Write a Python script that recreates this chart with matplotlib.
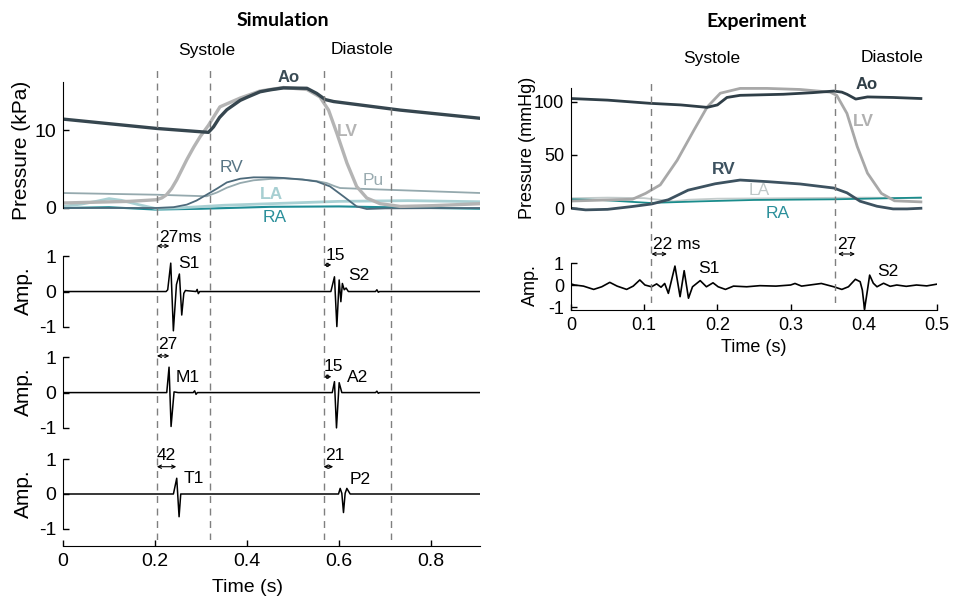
import matplotlib
matplotlib.use("Agg")
import matplotlib.pyplot as plt

plt.rcParams["font.family"] = ["Liberation Sans", "DejaVu Sans"]
plt.rcParams["axes.unicode_minus"] = False

# ---- simulation pressures (kPa) ----
sim_ao_t = [0, 0.2035, 0.316, 0.327, 0.34, 0.356, 0.385, 0.40, 0.428, 0.45, 0.479, 0.53, 0.551, 0.57, 0.588, 0.733, 0.907]
sim_ao_p = [11.4, 10.2, 9.7, 10.4, 11.6, 12.6, 13.8, 14.2, 14.9, 15.15, 15.4, 15.35, 14.7, 13.9, 13.65, 12.55, 11.5]
sim_lv_t = [0, 0.145, 0.2035, 0.215, 0.225, 0.236, 0.247, 0.258, 0.269, 0.284, 0.298, 0.316, 0.341, 0.385, 0.428, 0.479, 0.53, 0.558, 0.577, 0.595, 0.617, 0.638, 0.66, 0.689, 0.733, 0.805, 0.907]
sim_lv_p = [0.64, 0.85, 1.06, 1.3, 1.7, 2.5, 3.6, 4.9, 6.2, 7.8, 9.15, 10.6, 12.97, 14.1, 15.0, 15.45, 15.2, 14.25, 12.55, 9.58, 5.75, 2.76, 1.28, 0.55, 0.2, 0.3, 0.55]
sim_rv_t = [0, 0.2035, 0.24, 0.269, 0.29, 0.312, 0.335, 0.356, 0.385, 0.414, 0.45, 0.479, 0.52, 0.551, 0.58, 0.609, 0.638, 0.66, 0.7, 0.907]
sim_rv_p = [0, 0, 0.1, 0.43, 0.95, 1.7, 2.5, 3.28, 3.75, 3.93, 3.92, 3.85, 3.65, 3.4, 2.77, 1.5, 0.2, -0.13, -0.05, 0]
sim_pu_t = [0, 0.2035, 0.312, 0.335, 0.356, 0.385, 0.414, 0.45, 0.479, 0.52, 0.551, 0.573, 0.59, 0.602, 0.66, 0.805, 0.907]
sim_pu_p = [1.92, 1.7, 1.5, 2.0, 2.6, 3.2, 3.55, 3.72, 3.79, 3.65, 3.45, 3.2, 2.8, 2.56, 2.43, 2.13, 1.92]
sim_la_t = [0, 0.04, 0.072, 0.1, 0.127, 0.164, 0.2, 0.25, 0.35, 0.5, 0.6, 0.75, 0.907]
sim_la_p = [0.2, 0.5, 0.85, 1.2, 0.98, 0.43, -0.05, 0, 0.35, 0.65, 0.85, 0.94, 0.8]
sim_ra_t = [0, 0.1, 0.2, 0.3, 0.45, 0.6, 0.75, 0.907]
sim_ra_p = [0, 0.1, -0.2, -0.1, 0.15, 0.2, 0.05, -0.1]

# ---- simulation heart sounds ----
s_t = [0, 0.224, 0.2275, 0.2341, 0.2398, 0.2465, 0.2529, 0.258, 0.2625, 0.266, 0.272, 0.289, 0.2915, 0.294, 0.297,
       0.582, 0.5898, 0.595, 0.6, 0.6037, 0.607, 0.611, 0.615, 0.62, 0.679, 0.682, 0.685, 0.688, 0.907]
s_a = [0, 0, 0.05, 0.81, -1.12, 0.2, 0.5, -0.67, -0.05, 0.03, 0.02, 0, 0.06, -0.06, 0,
       0, 0.42, -1.0, 0.33, -0.29, 0.23, 0.05, 0.1, 0, 0, 0.05, -0.02, 0, 0]
ma_t = [0, 0.2254, 0.2304, 0.2348, 0.2413, 0.25, 0.283, 0.286, 0.289, 0.292,
        0.585, 0.5898, 0.5942, 0.6, 0.6058, 0.679, 0.682, 0.685, 0.688, 0.907]
ma_a = [0, 0, 0.72, -0.96, 0.02, 0, 0, 0.05, -0.05, 0,
        0, 0.31, -1.0, 0.28, 0, 0, 0.04, -0.02, 0, 0]
tp_t = [0, 0.2399, 0.2471, 0.2522, 0.2558, 0.5986, 0.6022, 0.6058, 0.6094, 0.613, 0.6167, 0.6239, 0.907]
tp_a = [0, 0, 0.45, -0.65, 0, 0, 0.16, 0.02, -0.53, 0.02, 0.16, 0, 0]

# ---- experiment pressures (mmHg) ----
exp_ao_t = [0, 0.05, 0.108, 0.15, 0.186, 0.2, 0.213, 0.231, 0.29, 0.33, 0.359, 0.37, 0.377, 0.389, 0.405, 0.44, 0.478]
exp_ao_p = [103, 101.5, 98.5, 97, 94.7, 97, 104, 106, 107, 108.5, 110, 109, 107, 102.5, 104.5, 104, 103]
exp_lv_t = [0, 0.084, 0.102, 0.122, 0.145, 0.168, 0.186, 0.204, 0.231, 0.268, 0.313, 0.354, 0.363, 0.377, 0.391, 0.405, 0.424, 0.442, 0.478]
exp_lv_p = [6.8, 8.5, 14, 22, 45, 73.4, 95, 108, 112.5, 112.5, 111.5, 109, 106, 89, 58, 33, 14, 7, 6]
exp_rv_t = [0, 0.02, 0.05, 0.082, 0.11, 0.133, 0.16, 0.197, 0.231, 0.268, 0.313, 0.359, 0.377, 0.395, 0.418, 0.44, 0.459, 0.478]
exp_rv_p = [0, -1.5, -1, 1.5, 4, 8, 17, 23, 26.5, 25, 22.8, 19, 14.5, 6.6, 1.9, -0.6, -0.6, 0]
exp_la_t = [0, 0.05, 0.1, 0.12, 0.14, 0.16, 0.2, 0.3, 0.4, 0.478]
exp_la_p = [9.4, 10, 9.5, 8, 6.5, 8, 9, 9.5, 10, 9.5]
exp_ra_t = [0, 0.04, 0.108, 0.177, 0.25, 0.359, 0.478]
exp_ra_p = [8.4, 7.8, 5, 6.5, 7.8, 8.4, 10]

# ---- experiment heart sound ----
exp_s_t = [0, 0.005, 0.017, 0.031, 0.042, 0.053, 0.063, 0.076, 0.085, 0.094, 0.101, 0.110, 0.117, 0.123,
           0.128, 0.133, 0.142, 0.149, 0.1546, 0.1605, 0.166, 0.1765, 0.185, 0.194, 0.201, 0.211, 0.222,
           0.24, 0.258, 0.28, 0.3, 0.306, 0.315, 0.342, 0.359, 0.37, 0.379, 0.3885, 0.395, 0.398, 0.401,
           0.405, 0.408, 0.413, 0.418, 0.427, 0.436, 0.445, 0.458, 0.472, 0.486, 0.5]
exp_s_a = [0.05, 0, -0.05, -0.2, -0.08, 0.12, -0.05, -0.2, -0.05, 0.23, 0, -0.08, 0.05, -0.1,
           0.07, -0.38, 0.86, -0.53, 0.65, -0.6, -0.08, 0.2, -0.08, 0.1, -0.08, -0.2, -0.05,
           -0.08, -0.03, -0.05, 0.0, 0.07, -0.05, 0.07, -0.08, -0.2, -0.08, 0.26, 0.15, -0.23, -1.1,
           -0.23, 0.45, 0.08, -0.08, 0.08, -0.06, 0.0, -0.06, 0.0, -0.04, 0.04]

sim_marks = [0.2037, 0.3196, 0.566, 0.712]
exp_marks = [0.109, 0.361]
sim_xticks = [0, 0.2, 0.4, 0.6, 0.8]
sim_xlabels = ["0", "0.2", "0.4", "0.6", "0.8"]
exp_xticks = [0, 0.1, 0.2, 0.3, 0.4, 0.5]
exp_xlabels = ["0", "0.1", "0.2", "0.3", "0.4", "0.5"]

W, H = 958, 599
fig = plt.figure(figsize=(W / 100, H / 100), dpi=100)


def px_axes(l, r, t, b):
    ax = fig.add_axes([l / W, 1 - b / H, (r - l) / W, (b - t) / H])
    ax.patch.set_alpha(0)
    for s in ["top", "right"]:
        ax.spines[s].set_visible(False)
    return ax


def ftext(px, py, s, **kw):
    fig.text(px / W, 1 - py / H, s, **kw)


def style(ax, fs, xaxis=False):
    ax.tick_params(direction="in", labelsize=fs, length=4, width=1, pad=5)
    if not xaxis:
        ax.spines["bottom"].set_visible(False)
        ax.set_xticks([])


SIM_X = (0, 0.906)
c_ao, c_lv, c_rv, c_pu, c_la, c_ra = "#36464f", "#b4b4b4", "#4d6a7b", "#95a9ae", "#a9d0d3", "#1f8c95"

# simulation pressure
ax = px_axes(63, 480, 78, 215)
ax.plot(sim_pu_t, sim_pu_p, color=c_pu, lw=1.3)
ax.plot(sim_ra_t, sim_ra_p, color=c_ra, lw=1.5)
ax.plot(sim_la_t, sim_la_p, color=c_la, lw=2.0)
ax.plot(sim_rv_t, sim_rv_p, color=c_rv, lw=1.3)
ax.plot(sim_lv_t, sim_lv_p, color=c_lv, lw=2.4)
ax.plot(sim_ao_t, sim_ao_p, color=c_ao, lw=2.4)
ax.set_xlim(*SIM_X)
ax.set_ylim(-0.9, 16.67)
ax.spines["left"].set_bounds(0, 16.15)
ax.set_yticks([0, 10])
style(ax, 14)
ax.text(0.49, 16.75, "Ao", color="#3b4c55", fontsize=12, fontweight="bold", ha="center", va="center")
ax.text(0.618, 9.8, "LV", color=c_lv, fontsize=12.5, fontweight="bold", ha="center", va="center")
ax.text(0.366, 5.2, "RV", color="#587585", fontsize=12.5, ha="center", va="center")
ax.text(0.674, 3.5, "Pu", color="#9aabb0", fontsize=12.5, ha="center", va="center")
ax.text(0.452, 1.7, "LA", color="#a7cfd2", fontsize=12.5, fontweight="bold", ha="center", va="center")
ax.text(0.459, -1.28, "RA", color="#2a8f9a", fontsize=12.5, ha="center", va="center")

arrow = dict(arrowstyle="<->", lw=0.8, mutation_scale=6, shrinkA=0, shrinkB=0, color="black")


def amp_panel(pos, ylim, tt, ta, notes, xaxis=False):
    a = px_axes(*pos)
    a.plot(tt, ta, color="black", lw=1.1)
    a.set_xlim(*SIM_X)
    a.set_ylim(*ylim)
    a.spines["left"].set_bounds(-1, 1)
    a.set_yticks([-1, 0, 1])
    style(a, 14, xaxis)
    for (x, y, s) in notes["text"]:
        a.text(x, y, s, fontsize=12.5, ha="left", va="center")
    for (x0, x1, y) in notes["arrows"]:
        a.annotate("", xy=(x1, y), xytext=(x0, y), arrowprops=arrow, annotation_clip=False)
    return a


amp_panel((63, 480, 240, 335), (-1.24, 1.47), s_t, s_a,
          {"text": [(0.209, 1.53, "27ms"), (0.251, 0.81, "S1"), (0.5696, 1.04, "15"), (0.620, 0.47, "S2")],
           "arrows": [(0.204, 0.231, 1.3), (0.566, 0.583, 0.76)]})
amp_panel((63, 480, 340, 436), (-1.23, 1.49), ma_t, ma_a,
          {"text": [(0.207, 1.35, "27"), (0.245, 0.44, "M1"), (0.566, 0.73, "15"), (0.617, 0.44, "A2")],
           "arrows": [(0.204, 0.231, 1.04), (0.566, 0.583, 0.45)]})
a3 = amp_panel((63, 480, 440, 546), (-1.486, 1.543), tp_t, tp_a,
               {"text": [(0.204, 1.11, "42"), (0.261, 0.43, "T1"), (0.5696, 1.11, "21"), (0.622, 0.4, "P2")],
                "arrows": [(0.204, 0.246, 0.78), (0.566, 0.587, 0.78)]}, xaxis=True)
a3.set_xticks(sim_xticks)
a3.set_xticklabels(sim_xlabels)

# dashed phase markers (simulation)
ov = px_axes(63, 480, 67, 540)
ov.set_xlim(*SIM_X)
ov.set_ylim(0, 1)
ov.axis("off")
for m in sim_marks:
    ov.axvline(m, color="#7f7f7f", lw=1, ls=(0, (5, 4)))

# experiment pressure
c_eao, c_elv, c_erv, c_ela, c_era = "#2f3e47", "#a8a8a8", "#3d5260", "#c4cccc", "#1a8c8c"
bx = px_axes(571, 937, 85, 212)
bx.plot(exp_la_t, exp_la_p, color=c_ela, lw=1.3)
bx.plot(exp_ra_t, exp_ra_p, color=c_era, lw=1.3)
bx.plot(exp_rv_t, exp_rv_p, color=c_erv, lw=2.0)
bx.plot(exp_lv_t, exp_lv_p, color=c_elv, lw=2.0)
bx.plot(exp_ao_t, exp_ao_p, color=c_eao, lw=2.0)
bx.set_xlim(0, 0.5)
bx.set_ylim(-3.5, 115.7)
bx.spines["left"].set_bounds(0, 112.5)
bx.set_yticks([0, 50, 100])
style(bx, 13)
bx.text(0.404, 115.7, "Ao", color=c_eao, fontsize=12, fontweight="bold", ha="center", va="center")
bx.text(0.40, 81, "LV", color="#b0b0b0", fontsize=12.5, fontweight="bold", ha="center", va="center")
bx.text(0.209, 36, "RV", color=c_erv, fontsize=12.5, fontweight="bold", ha="center", va="center")
bx.text(0.257, 17, "LA", color="#c0c8c8", fontsize=12.5, ha="center", va="center")
bx.text(0.283, -4.5, "RA", color="#2a8f9a", fontsize=12.5, ha="center", va="center")

# experiment heart sound
cx = px_axes(571, 937, 255, 310)
cx.plot(exp_s_t, exp_s_a, color="black", lw=1.2)
cx.set_xlim(0, 0.5)
cx.set_ylim(-1.136, 1.364)
cx.spines["left"].set_bounds(-1.136, 1.0)
cx.set_yticks([-1, 0, 1])
cx.set_xticks(exp_xticks)
cx.set_xticklabels(exp_xlabels)
style(cx, 13, xaxis=True)
cx.text(0.112, 1.82, "22 ms", fontsize=12.5, ha="left", va="center")
cx.text(0.174, 0.76, "S1", fontsize=12.5, ha="left", va="center")
cx.text(0.363, 1.82, "27", fontsize=12.5, ha="left", va="center")
cx.text(0.418, 0.6, "S2", fontsize=12.5, ha="left", va="center")
cx.annotate("", xy=(0.131, 1.41), xytext=(0.11, 1.41), arrowprops=arrow, annotation_clip=False)
cx.annotate("", xy=(0.388, 1.41), xytext=(0.365, 1.41), arrowprops=arrow, annotation_clip=False)

ov2 = px_axes(571, 937, 78, 303)
ov2.set_xlim(0, 0.5)
ov2.set_ylim(0, 1)
ov2.axis("off")
for m in exp_marks:
    ov2.axvline(m, color="#7f7f7f", lw=1, ls=(0, (5, 4)))

# labels and titles
title_font = ["Lato", "DejaVu Sans"]
ftext(283, 21, "Simulation", fontsize=14, fontweight="bold", family=title_font, ha="center", va="center")
ftext(757, 21, "Experiment", fontsize=14, fontweight="bold", family=title_font, ha="center", va="center")
ftext(207, 50, "Systole", fontsize=12.5, ha="center", va="center")
ftext(362, 50, "Diastole", fontsize=12.5, ha="center", va="center")
ftext(712, 58, "Systole", fontsize=12.5, ha="center", va="center")
ftext(892, 58, "Diastole", fontsize=12.5, ha="center", va="center")
ftext(22, 150, "Pressure (kPa)", fontsize=15, rotation=90, ha="center", va="center")
for yc in [291, 392, 494]:
    ftext(23, yc, "Amp.", fontsize=15, rotation=90, ha="center", va="center")
ftext(248, 588, "Time (s)", fontsize=14, ha="center", va="center")
ftext(528, 148, "Pressure (mmHg)", fontsize=13, rotation=90, ha="center", va="center")
ftext(530, 285, "Amp.", fontsize=13, rotation=90, ha="center", va="center")
ftext(754, 348, "Time (s)", fontsize=13, ha="center", va="center")

fig.savefig("out.png", dpi=100, facecolor="white")
